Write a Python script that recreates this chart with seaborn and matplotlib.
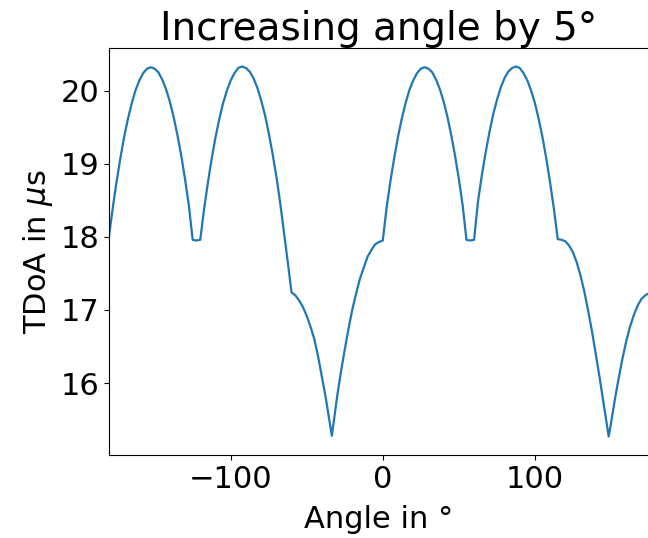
import matplotlib
matplotlib.use("Agg")
import matplotlib.pyplot as plt
import seaborn as sns
import pandas as pd

# Rotation angle of the array (degrees)
angles = [
    -180, -177.5, -175, -172.5, -170, -167.5, -165, -162.5, -160, -157.5,
    -155, -152.5, -150, -147.5, -145, -142.5, -140, -137.5, -135, -132.5,
    -130, -127.5, -125, -122.5, -120, -117.5, -115, -112.5, -110, -107.5,
    -105, -102.5, -100, -97.5, -95, -92.5, -90, -87.5, -85, -82.5,
    -80, -77.5, -75, -72.5, -70, -67.5, -65, -62.5, -60, -57.5,
    -55, -52.5, -50, -47.5, -45, -42.5, -40, -37.5, -35, -33.5,
    -30, -27.5, -25, -22.5, -20, -17.5, -15, -12.5, -10, -7.5,
    -5, -2.5, 0, 2.5, 5, 7.5, 10, 12.5, 15, 17.5,
    20, 22.5, 25, 27.5, 30, 32.5, 35, 37.5, 40, 42.5,
    45, 47.5, 50, 52.5, 55, 57.5, 60, 62.5, 65, 67.5,
    70, 72.5, 75, 77.5, 80, 82.5, 85, 87.5, 90, 92.5,
    95, 97.5, 100, 102.5, 105, 107.5, 110, 112.5, 115, 117.5,
    120, 122.5, 125, 127.5, 130, 132.5, 135, 137.5, 140, 142.5,
    145, 147.5, 148.5, 150, 152.5, 155, 157.5, 160, 162.5, 165,
    167.5, 170, 172.5, 175,
]

# Measured time difference of arrival (microseconds)
tdoa_us = [
    18.01, 18.40, 18.76, 19.08, 19.37, 19.62, 19.83, 20.01, 20.14, 20.24,
    20.30, 20.32, 20.30, 20.25, 20.15, 20.02, 19.85, 19.64, 19.39, 19.11,
    18.79, 18.43, 17.96, 17.95, 17.96, 18.38, 18.74, 19.07, 19.36, 19.61,
    19.83, 20.00, 20.14, 20.24, 20.31, 20.33, 20.31, 20.26, 20.17, 20.04,
    19.87, 19.67, 19.42, 19.14, 18.83, 18.47, 18.07, 17.66, 17.24, 17.20,
    17.13, 17.04, 16.92, 16.77, 16.60, 16.36, 16.08, 15.80, 15.48, 15.28,
    15.82, 16.16, 16.46, 16.75, 17.01, 17.23, 17.43, 17.58, 17.73, 17.82,
    17.90, 17.93, 17.95, 18.40, 18.76, 19.08, 19.37, 19.62, 19.83, 20.01,
    20.14, 20.24, 20.30, 20.32, 20.30, 20.25, 20.15, 20.02, 19.85, 19.64,
    19.39, 19.11, 18.79, 18.43, 17.96, 17.95, 17.96, 18.47, 18.83, 19.14,
    19.42, 19.67, 19.87, 20.04, 20.17, 20.26, 20.31, 20.33, 20.31, 20.24,
    20.14, 20.00, 19.83, 19.61, 19.36, 19.07, 18.74, 18.38, 17.97, 17.96,
    17.94, 17.88, 17.79, 17.65, 17.47, 17.25, 16.99, 16.71, 16.40, 16.08,
    15.74, 15.40, 15.27, 15.45, 15.77, 16.06, 16.33, 16.57, 16.77, 16.93,
    17.06, 17.15, 17.20, 17.23,
]

x_ticks = [-100, 0, 100]
y_ticks = [16, 17, 18, 19, 20]

df = pd.DataFrame({"angle": angles, "tdoa": tdoa_us})

fig = plt.figure(figsize=(6.48, 5.38), dpi=100)
ax = fig.add_axes([109 / 648, 1 - 455 / 538, 540 / 648, 407 / 538])

sns.lineplot(data=df, x="angle", y="tdoa", ax=ax, color="#1f77b4",
             linewidth=1.6, sort=False)

ax.set_xlim(-180, 175)
ax.set_xticks(x_ticks)
ax.set_yticks(y_ticks)
ax.tick_params(labelsize=22)
ax.set_xlabel("Angle in °", fontsize=22, labelpad=8)
ax.set_ylabel(r"TDoA in $\mu$s", fontsize=22)
ax.set_title("Increasing angle by 5°", fontsize=28)

fig.savefig("out.png", dpi=100)
